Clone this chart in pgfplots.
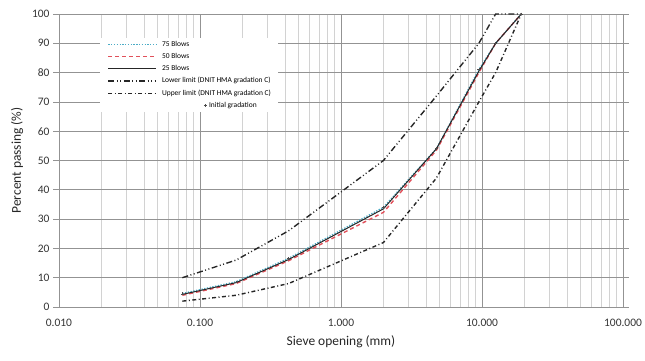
\documentclass[border=0pt]{standalone}
\usepackage{pgfplots}
\pgfplotsset{compat=1.18}
\usepackage{fontspec}
\setmainfont{Carlito}
\definecolor{teal75}{RGB}{75,172,198}
\definecolor{red50}{RGB}{225,80,90}
\pgfplotsset{
  mylineleg/.style={legend image code/.code={\draw[##1] (6bp,0bp) -- (54bp,0bp);}},
  mymarkleg/.style={legend image code/.code={\path[draw=none,fill=none] (0bp,0bp) -- (54bp,0bp); \draw[overlay,##1] plot coordinates {(103bp,0bp)};}},
}
\begin{document}
\begin{tikzpicture}
\begin{axis}[
  name=ax,
  scale only axis,
  width=564bp, height=293bp,
  xmode=log,
  xmin=0.01, xmax=100,
  ymin=0, ymax=100,
  xtick={0.01,0.1,1,10,100},
  xticklabels={0.010,0.100,1.000,10.000,100.000},
  ytick={0,10,...,100},
  minor xtick={0.02,0.03,0.04,0.05,0.06,0.07,0.08,0.09,0.2,0.3,0.4,0.5,0.6,0.7,0.8,0.9,2,3,4,5,6,7,8,9,20,30,40,50,60,70,80,90},
  grid=both,
  major grid style={draw=gray!85, line width=0.8pt},
  minor grid style={draw=gray!35, line width=0.6pt},
  axis line style={draw=gray!85, line width=0.8pt},
  tick align=outside,
  xtick style={draw=none},
  minor tick style={draw=none},
  ytick style={draw=gray!85, line width=0.7pt},
  major tick length=6bp,
  ticklabel style={font=\fontsize{11.5}{13}\selectfont, text=black!80},
  /pgf/number format/assume math mode=true,
  xticklabel style={yshift=-3bp},
  xlabel={Sieve opening (mm)},
  ylabel={Percent passing (\%)},
  label style={font=\fontsize{13.5}{15}\selectfont, text=black!85},
  xlabel style={yshift=-2bp},
  ylabel style={yshift=2bp},
  legend cell align=left,
  legend style={at={(0.073,0.918)}, anchor=north west, draw=none, fill=white,
    font=\fontsize{7.5}{9}\selectfont, row sep=3.4pt, inner sep=2pt,
    nodes={inner ysep=1pt, inner xsep=5bp}},
]
\addplot[teal75, line width=1.4pt, dash pattern=on 1.3pt off 1.5pt, mylineleg] coordinates {
 (0.075,4.6) (0.18,8.6) (0.425,16.6) (2.0,34) (4.75,54) (9.5,81) (12.5,90) (19,100)};
\addlegendentry{75 Blows}
\addplot[red50, line width=1.4pt, dash pattern=on 4pt off 3pt, mylineleg] coordinates {
 (0.075,4.0) (0.18,8.0) (0.425,15.8) (2.0,32.3) (4.75,53.5) (9.5,80) (12.5,90) (19,100)};
\addlegendentry{50 Blows}
\addplot[black!85, line width=1pt, mylineleg] coordinates {
 (0.075,4.3) (0.18,8.3) (0.425,16.2) (2.0,33.5) (4.75,54) (9.5,80.5) (12.5,90) (19,100)};
\addlegendentry{25 Blows}
\addplot[black!85, line width=1.4pt, dash pattern=on 6pt off 2.5pt on 1pt off 2.5pt on 1pt off 2.5pt, mylineleg] coordinates {
 (0.075,10) (0.18,16) (0.425,26) (2.0,50) (4.75,72) (9.5,90) (12.5,100) (19,100)};
\addlegendentry{Lower limit (DNIT HMA gradation C)}
\addplot[black!85, line width=1.4pt, dash pattern=on 4pt off 2.5pt on 1pt off 2.5pt, mylineleg] coordinates {
 (0.075,2) (0.18,4) (0.425,8) (2.0,22) (4.75,44) (9.5,70) (12.5,80) (19,100)};
\addlegendentry{Upper limit (DNIT HMA gradation C)}
\addplot[only marks, mark=+, mark size=1.4pt, black!70, line width=0.6pt, mymarkleg] coordinates {
 (0.075,4.5) (0.18,8.5) (0.425,16.5) (2.0,34) (4.75,54) (9.5,81) (12.5,90) (19,100)};
\addlegendentry{\hspace*{47bp}Initial gradation}
\end{axis}
\pgfresetboundingbox
\path (ax.south west) ++(-59bp,-54bp) coordinate (bl);
\path (ax.north east) ++(22bp,14bp) coordinate (tr);
\useasboundingbox (bl) rectangle (tr);
\end{tikzpicture}
\end{document}
